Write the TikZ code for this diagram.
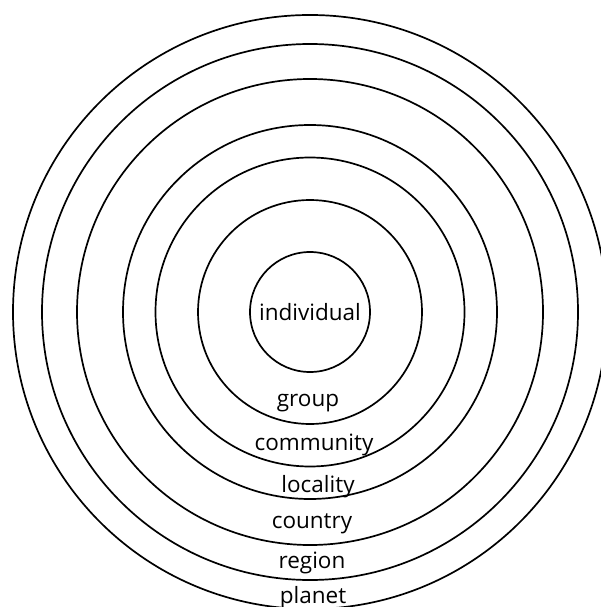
\documentclass[tikz,border=0pt]{standalone}
\usepackage{fontspec}
\setmainfont{Open Sans}
\begin{document}
\begin{tikzpicture}[x=1pt,y=-1pt,
  ring/.style={draw=black,line width=1.7pt,circle,inner sep=0pt},
  lbl/.style={font=\fontsize{22.5}{24}\selectfont,inner sep=0pt,anchor=base}]
\useasboundingbox (0,0) rectangle (601,607);
\clip (0,0) rectangle (601,607);
\fill[white] (0,0) rectangle (601,607);
\coordinate (c) at (310,312);
\node[ring,minimum size=594pt] (planet) at (c) {};
\node[ring,minimum size=536pt] (region) at (c) {};
\node[ring,minimum size=466pt] (country) at (c) {};
\node[ring,minimum size=374pt] (locality) at (c) {};
\node[ring,minimum size=309pt] (community) at (c) {};
\node[ring,minimum size=224pt] (group) at (c) {};
\node[ring,minimum size=120pt,font=\fontsize{22.5}{24}\selectfont] (individual) at (c) {individual};
\node[lbl] (tgroup) at (308,406) {group};
\node[lbl] (tcommunity) at (314,450) {community};
\node[lbl] (tlocality) at (318,492) {locality};
\node[lbl] (tcountry) at (312,528) {country};
\node[lbl] (tregion) at (312,568) {region};
\node[lbl] (tplanet) at (313,603) {planet};
\end{tikzpicture}
\end{document}
